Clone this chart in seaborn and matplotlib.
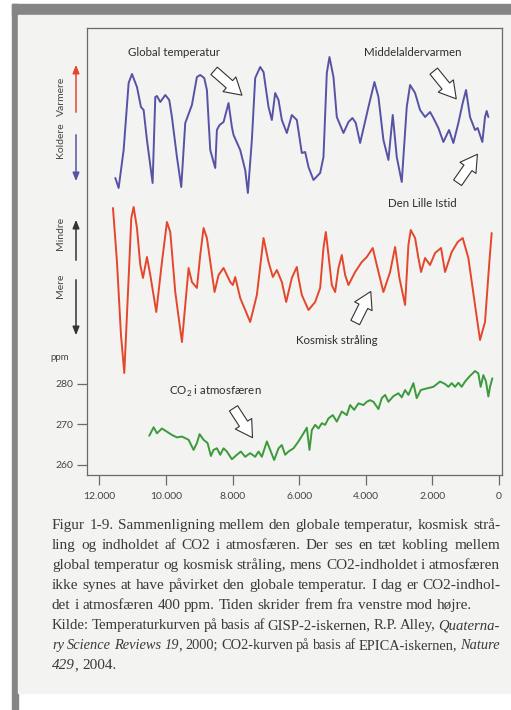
import matplotlib
matplotlib.use("Agg")
import matplotlib.pyplot as plt
import seaborn as sns
from matplotlib.patches import Rectangle, FancyArrowPatch

# --- data -----------------------------------------------------------------
temp_years = [11520, 11420, 11270, 11120, 11020, 10870, 10750, 10670, 10570, 10400,
              10320, 10270, 10170, 10020, 9900, 9820, 9670, 9540, 9420, 9220,
              9070, 8970, 8850, 8770, 8670, 8520, 8470, 8390, 8270, 8120,
              8020, 7970, 7770, 7620, 7540, 7420, 7320, 7170, 7070, 6920,
              6820, 6720, 6620, 6520, 6370, 6220, 6070, 5920, 5820, 5720,
              5570, 5370, 5270, 5170, 5090, 4970, 4870, 4670, 4520, 4400,
              4300, 4170, 3920, 3740, 3620, 3470, 3320, 3190, 3070, 2920,
              2770, 2670, 2520, 2370, 2220, 2070, 1970, 1820, 1670, 1500,
              1370, 1220, 1090, 990, 870, 720, 640, 500, 420, 370, 320]
temp_values = [22, 12, 50, 117, 126, 113, 93, 90, 60, 17,
               103, 104, 98, 105, 100, 83, 43, 13, 77, 95,
               123, 125, 122, 110, 50, 32, 70, 75, 78, 97,
               73, 65, 50, 30, 7, 60, 122, 133, 128, 93,
               80, 107, 100, 80, 67, 85, 80, 47, 48, 33,
               20, 27, 43, 127, 143, 123, 83, 67, 78, 82,
               77, 57, 93, 118, 103, 60, 40, 85, 43, 18,
               93, 115, 107, 90, 83, 88, 82, 72, 58, 70,
               57, 77, 97, 110, 83, 70, 72, 58, 83, 89, 83]

cosmic_years = [11590, 11470, 11350, 11250, 11120, 11040, 10970, 10870, 10770, 10690,
                10570, 10470, 10290, 10120, 9970, 9870, 9720, 9520, 9320, 9220,
                9070, 8970, 8870, 8770, 8540, 8420, 8270, 8070, 7990, 7920,
                7770, 7470, 7270, 7070, 6920, 6790, 6670, 6520, 6390, 6220,
                6070, 6020, 5920, 5720, 5520, 5370, 5270, 5200, 5120, 5020,
                4920, 4820, 4720, 4620, 4520, 4320, 4120, 3970, 3790, 3670,
                3470, 3270, 3120, 2990, 2820, 2720, 2650, 2520, 2420, 2340,
                2220, 2070, 1920, 1740, 1620, 1420, 1240, 1090, 920, 720,
                570, 420, 290, 220]
cosmic_values = [8, 62, 135, 173, 78, 18, 7, 28, 65, 78,
                 57, 75, 112, 62, 22, 32, 92, 142, 68, 82,
                 88, 55, 28, 38, 92, 75, 68, 82, 85, 77,
                 98, 122, 95, 38, 62, 77, 70, 82, 102, 78,
                 67, 78, 95, 110, 102, 88, 48, 32, 55, 85,
                 92, 68, 55, 75, 85, 72, 62, 57, 48, 65,
                 92, 72, 47, 78, 105, 45, 30, 38, 58, 72,
                 58, 65, 53, 48, 72, 52, 42, 38, 58, 105,
                 140, 122, 62, 33]

co2_years = [10500, 10370, 10270, 10120, 9970, 9820, 9670, 9520, 9320, 9170,
             9070, 8990, 8870, 8750, 8650, 8570, 8470, 8370, 8270, 8170,
             8020, 7870, 7750, 7620, 7470, 7320, 7220, 7120, 6970, 6870,
             6750, 6620, 6520, 6420, 6320, 6170, 6020, 5870, 5770, 5690,
             5620, 5520, 5420, 5320, 5220, 5120, 4990, 4870, 4720, 4570,
             4470, 4350, 4220, 4070, 3970, 3870, 3770, 3620, 3520, 3420,
             3320, 3170, 3020, 2920, 2820, 2720, 2570, 2470, 2350, 2170,
             1970, 1770, 1620, 1520, 1420, 1320, 1220, 1120, 1020, 870,
             720, 620, 550, 470, 390, 320, 270, 200]
co2_ppm = [267.2, 269.3, 267.8, 269.0, 268.2, 267.4, 266.8, 267.0, 266.2, 263.7,
           265.4, 267.6, 266.2, 265.4, 262.2, 263.7, 264.1, 262.5, 264.1, 263.3,
           261.4, 262.5, 263.3, 262.0, 262.9, 262.0, 263.3, 262.0, 265.8, 263.7,
           261.2, 264.1, 264.9, 262.5, 263.3, 264.1, 265.8, 267.8, 269.2, 263.7,
           268.6, 269.9, 269.0, 270.3, 269.9, 271.5, 272.3, 270.7, 273.2, 272.3,
           274.8, 273.6, 275.2, 274.8, 275.6, 276.0, 275.6, 273.8, 276.5, 277.3,
           275.6, 277.0, 277.7, 276.7, 278.5, 277.3, 280.2, 276.5, 278.5, 278.9,
           279.3, 280.6, 280.0, 279.3, 280.2, 279.3, 280.3, 279.3, 280.6, 282.0,
           283.2, 282.6, 279.3, 282.2, 280.6, 276.9, 279.3, 281.4]

year_ticks = [12000, 10000, 8000, 6000, 4000, 2000, 0]
year_labels = ["12.000", "10.000", "8.000", "6.000", "4.000", "2.000", "0"]
ppm_ticks = [260, 270, 280]

caption = [
    ("Figur 1-9. Sammenligning mellem den globale temperatur, kosmisk strå-", True),
    ("ling og indholdet af CO2 i atmosfæren. Der ses en tæt kobling mellem", True),
    ("global temperatur og kosmisk stråling, mens CO2-indholdet i atmosfæren", True),
    ("ikke synes at have påvirket den globale temperatur. I dag er CO2-indhol-", True),
    ("det i atmosfæren 400 ppm. Tiden skrider frem fra venstre mod højre.", False),
    ("Kilde: Temperaturkurven på basis af GISP-2-iskernen, R.P. Alley, _Quaterna-_", True),
    ("_ry Science Reviews 19_, 2000; CO2-kurven på basis af EPICA-iskernen, _Nature_", True),
    ("_429_, 2004.", False),
]

# --- styling ----------------------------------------------------------------
W, H = 511, 710
BLUE, RED, GREEN = "#5653a6", "#e4472b", "#3b9a3c"
PAGE, FRAME, INK = "#f3f3f1", "#858585", "#3a3a3a"

sns.set_theme(style="white")
plt.rcParams['font.family'] = ['Lato', 'DejaVu Sans']
plt.rcParams['mathtext.fontset'] = 'custom'
plt.rcParams['mathtext.rm'] = 'Lato'


def fx(x):
    return x / W


def fy(y):
    return 1 - y / H


fig = plt.figure(figsize=(W / 100, H / 100), dpi=100, facecolor="white")

# page and scanner frame
for (x0, y0, x1, y1, c) in [(12, 4, 18, H, FRAME), (12, 4, W, 15, FRAME), (18, 15, W, 693, PAGE)]:
    fig.patches.append(Rectangle((fx(x0), fy(y1)), fx(x1) - fx(x0), fy(y0) - fy(y1),
                                 transform=fig.transFigure, color=c, zorder=-10))

ax = fig.add_axes([fx(87), fy(475), fx(502) - fx(87), (475 - 28) / H])
ax.patch.set_alpha(0)

line_kw = dict(lw=1.4, estimator=None, solid_joinstyle="round")
sns.lineplot(x=co2_years, y=co2_ppm, ax=ax, color=GREEN, **line_kw)

ax_t = ax.twinx()
sns.lineplot(x=temp_years, y=temp_values, ax=ax_t, color=BLUE, **line_kw)
ax_t.set_ylim(-275, 172)
ax_t.axis("off")

ax_c = ax.twinx()
sns.lineplot(x=cosmic_years, y=cosmic_values, ax=ax_c, color=RED, **line_kw)
ax_c.set_ylim(275, -172)
ax_c.axis("off")

ax.set_xlim(12370, -90)
ax.set_ylim(257.5, 368)
ax.set_xticks(year_ticks)
ax.set_xticklabels(year_labels)
ax.set_yticks(ppm_ticks)
ax.set_xlabel("")
ax.set_ylabel("")
for s in ax.spines.values():
    s.set_color("#6a6a6a")
    s.set_linewidth(0.9)
ax.tick_params(axis="both", bottom=True, left=True, direction="out", length=7,
               width=0.9, color="#6a6a6a", labelsize=7.5, labelcolor="#454545")
ax.tick_params(axis="x", pad=5)
ax.tick_params(axis="y", pad=3)

fig.text(fx(60), fy(357), "ppm", ha="center", va="center", fontsize=7, color="#454545")

# side legends
for (txt, y) in [("Varmere", 96), ("Koldere", 140), ("Mindre", 233), ("Mere", 286)]:
    fig.text(fx(61), fy(y), txt, rotation=90, ha="center", va="center", fontsize=7.5, color="#454545")

for (y0, y1, c) in [(115, 62, RED), (132, 184, BLUE), (263, 217, "#333333"), (277, 338, "#333333")]:
    fig.add_artist(FancyArrowPatch((fx(76), fy(y0)), (fx(76), fy(y1)), transform=fig.transFigure,
                                   arrowstyle="-|>,head_length=0.5,head_width=0.2",
                                   mutation_scale=10, lw=1.1, color=c))

# curve labels with hollow arrows
labels = [("Global temperatur", 174, 53), ("Middelaldervarmen", 413, 52),
          ("Den Lille Istid", 422, 203), ("Kosmisk stråling", 337, 340),
          (r"CO$_\mathrm{2}$ i atmosfæren", 215, 391)]
for (txt, x, y) in labels:
    fig.text(fx(x), fy(y), txt, ha="center", va="center", fontsize=8.3, color="#2e2e2e")

for (x0, y0, x1, y1) in [(212, 69, 244, 97), (432, 69, 458, 101), (456, 185, 479, 152),
                         (354, 325, 372, 289), (232, 406, 254, 440)]:
    fig.add_artist(FancyArrowPatch((fx(x0), fy(y0)), (fx(x1), fy(y1)), transform=fig.transFigure,
                                   arrowstyle="simple,head_length=0.85,head_width=1.0,tail_width=0.5",
                                   mutation_scale=14, fc="white", ec="#333333", lw=0.8))

# justified caption
renderer = fig.canvas.get_renderer()
left, right, y_first, step = 52, 500, 529, 20
base_size = 11.0


def split_italic(line):
    state = False
    words = []
    for w in line.split(" "):
        out = []
        for i, p in enumerate(w.split("_")):
            if i > 0:
                state = not state
            if p:
                out.append((p, state))
        words.append(out)
    return words


def set_line(words, y, size, justify):
    font = dict(family="Liberation Serif", size=size, color=INK)
    probe = fig.text(0, 0, "a a", **font)
    w2 = probe.get_window_extent(renderer).width
    probe.set_text("aa")
    space_w = w2 - probe.get_window_extent(renderer).width
    probe.remove()
    arts_all = []
    for w in words:
        arts = []
        for (p, ital) in w:
            t = fig.text(0, fy(y), p, va="baseline", style="italic" if ital else "normal", **font)
            arts.append((t, t.get_window_extent(renderer).width))
        arts_all.append(arts)
    widths = [sum(a[1] for a in arts) for arts in arts_all]
    need = sum(widths) + (len(words) - 1) * space_w * 0.75
    if need > right - left and size > 8:
        for arts in arts_all:
            for (t, _) in arts:
                t.remove()
        return set_line(words, y, size - 0.2, justify)
    if justify and len(words) > 1:
        gap = (right - left - sum(widths)) / (len(words) - 1)
    else:
        gap = space_w
    x = left
    for arts, ww in zip(arts_all, widths):
        xx = x
        for (t, tw) in arts:
            t.set_x(fx(xx))
            xx += tw
        x += ww + gap


for i, (line, justify) in enumerate(caption):
    set_line(split_italic(line), y_first + i * step, base_size, justify)

fig.savefig("out.png", dpi=100, facecolor=fig.get_facecolor())
